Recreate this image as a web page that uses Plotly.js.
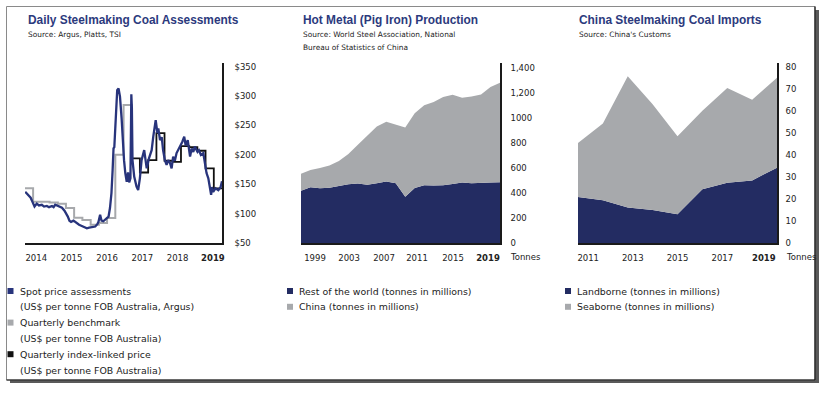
<!DOCTYPE html>
<html><head><meta charset="utf-8">
<script src="https://cdn.plot.ly/plotly-3.0.1.min.js"></script>
<style>html,body{margin:0;padding:0;background:#fff}#c{width:827px;height:398px}</style>
</head><body><div id="c"></div>
<script>
// ---------- DATA ----------
// Chart 1: Daily Steelmaking Coal Assessments (US$/t)
const spotDates = [
'2014-01-03','2014-01-20','2014-02-15','2014-03-05','2014-03-25','2014-04-17','2014-05-12','2014-06-05','2014-07-07','2014-08-01','2014-09-01','2014-09-25','2014-10-28','2014-11-15','2014-12-03',
'2015-01-10','2015-02-16','2015-03-16','2015-04-05','2015-04-22','2015-05-10','2015-05-28','2015-06-24','2015-08-01','2015-08-25','2015-09-25','2015-10-20','2015-11-20','2015-12-15',
'2016-01-15','2016-02-21','2016-03-15','2016-03-28','2016-04-15','2016-05-01','2016-05-20','2016-06-10','2016-07-01','2016-07-18','2016-08-03','2016-08-19','2016-09-01','2016-09-11','2016-09-20','2016-10-05','2016-10-22','2016-11-06','2016-11-22','2016-12-10','2016-12-22',
'2017-01-06','2017-01-20','2017-02-05','2017-02-19','2017-03-04','2017-03-18','2017-03-28','2017-04-03','2017-04-10','2017-04-18','2017-04-29','2017-05-25','2017-06-12','2017-07-01','2017-07-20','2017-08-18','2017-09-03','2017-09-15','2017-10-10','2017-11-09','2017-11-27','2017-12-24',
'2018-01-12','2018-01-22','2018-02-10','2018-03-01','2018-03-16','2018-04-05','2018-04-24','2018-05-12','2018-06-01','2018-06-19','2018-07-06','2018-07-25','2018-08-13','2018-09-01','2018-09-20','2018-10-15','2018-11-06','2018-11-22','2018-12-15',
'2019-01-10','2019-01-28','2019-02-15','2019-03-04','2019-04-03','2019-04-18','2019-05-10','2019-06-06','2019-06-24','2019-07-12','2019-08-01','2019-08-19','2019-09-01','2019-09-10','2019-09-24','2019-10-20','2019-11-20','2019-12-15','2019-12-31'];
const spotValues = [
137,134,131,127,120,112,117,114,115,112,113,111,113,111,115,
112,110,105,100,95,88,86,88,83,81,79,77,75,76,
77,78,82,86,98,88,87,90,92,95,110,135,174,211,213,259,310,313,299,262,220,
191,169,154,170,153,160,303,280,191,175,163,146,140,160,191,208,191,177,194,208,231,259,
237,245,225,230,208,191,183,191,186,177,197,190,203,208,214,222,231,216,225,
197,211,205,214,205,208,200,203,186,169,160,146,132,145,137,143,140,145,155];
const benchDates = ['2014-01-01','2014-04-01','2014-07-01','2014-10-01','2015-01-01','2015-04-01','2015-07-01','2015-10-01','2016-01-01','2016-04-01','2016-07-01','2016-10-01','2017-01-01','2017-04-01'];
const benchValues = [143,120,120,119,117,109.5,93,89,81,84,92.5,200,285,194];
const indexDates = ['2017-04-01','2017-07-01','2017-10-01','2018-01-01','2018-04-01','2018-07-01','2018-10-01','2019-01-01','2019-04-01','2019-07-01','2019-10-01','2019-12-31'];
const indexValues = [194,170,191,237,190,188,215,213,207,177,143,143];
const c1TickLabels = ['2014','2015','2016','2017','2018','<b>2019</b>'];
const c1YTicks = [50,100,150,200,250,300,350];

// Chart 2: Hot Metal (Pig Iron) Production (tonnes in millions)
const pigYears = [1998,1999,2000,2001,2002,2003,2004,2005,2006,2007,2008,2009,2010,2011,2012,2013,2014,2015,2016,2017,2018,2019];
const pigRestOfWorld = [418,445,438,442,455,470,475,465,478,490,478,370,440,462,460,462,472,482,478,478,482,484];
const pigChina = [134,138,160,176,200,240,310,390,452,478,467,552,595,638,665,703,712,678,692,707,763,796];
const c2TickLabels = ['1999','2003','2007','2011','2015','<b>2019</b>'];
const c2YTicks = [0,200,400,600,800,1000,1200,1400];
const c2YTickText = ['0','200','400','600','800','1000','1,200','1,400'];

// Chart 3: China Steelmaking Coal Imports (tonnes in millions)
const impYears = [2011,2012,2013,2014,2015,2016,2017,2018,2019];
const impLandborne = [20.9,19.4,16.1,15.0,13.1,24.4,27.4,28.4,34.2];
const impSeaborne = [24.5,34.8,59.6,48.0,35.4,35.6,43.0,36.6,40.8];
const c3TickLabels = ['2011','2013','2015','2017','<b>2019</b>'];
const c3YTicks = [0,10,20,30,40,50,60,70,80];

const titles = ['Daily Steelmaking Coal Assessments','Hot Metal (Pig Iron) Production','China Steelmaking Coal Imports'];
const sources = [['Source: Argus, Platts, TSI'],['Source: World Steel Association, National','Bureau of Statistics of China'],["Source: China's Customs"]];
const legend1 = ['Spot price assessments','(US$ per tonne FOB Australia, Argus)','Quarterly benchmark','(US$ per tonne FOB Australia)','Quarterly index-linked price','(US$ per tonne FOB Australia)'];
const legend2 = ['Rest of the world (tonnes in millions)','China (tonnes in millions)'];
const legend3 = ['Landborne (tonnes in millions)','Seaborne (tonnes in millions)'];

// ---------- STYLE ----------
const W=827,H=398;
const fx=x=>x/W, fy=y=>1-y/H;
const NAVY='#232c62', LINENAVY='#28347c', GREY='#a7a9ac', BLACK='#111111', TXT='#222222', TITLE='#2c3a7d';
const tickFont={family:'DejaVu Sans',size:8.5,color:TXT};
const yTop=63,yBot=243;

const traces=[
 {x:benchDates,y:benchValues,type:'scatter',mode:'lines',line:{shape:'hv',color:GREY,width:2},xaxis:'x',yaxis:'y',hoverinfo:'skip'},
 {x:indexDates,y:indexValues,type:'scatter',mode:'lines',line:{shape:'hv',color:BLACK,width:1.8},xaxis:'x',yaxis:'y',hoverinfo:'skip'},
 {x:spotDates,y:spotValues,type:'scatter',mode:'lines',line:{color:LINENAVY,width:2.3},xaxis:'x',yaxis:'y'},
 {x:pigYears,y:pigRestOfWorld,type:'scatter',mode:'lines',stackgroup:'a',fillcolor:NAVY,line:{width:0,color:NAVY},xaxis:'x2',yaxis:'y2'},
 {x:pigYears,y:pigChina,type:'scatter',mode:'lines',stackgroup:'a',fillcolor:GREY,line:{width:0,color:GREY},xaxis:'x2',yaxis:'y2'},
 {x:impYears,y:impLandborne,type:'scatter',mode:'lines',stackgroup:'b',fillcolor:NAVY,line:{width:0,color:NAVY},xaxis:'x3',yaxis:'y3'},
 {x:impYears,y:impSeaborne,type:'scatter',mode:'lines',stackgroup:'b',fillcolor:GREY,line:{width:0,color:GREY},xaxis:'x3',yaxis:'y3'}
];

function xax(l,r,anchor,range,tickvals,ticktext,type){
 return {domain:[fx(l),fx(r)],anchor:anchor,range:range,type:type||'linear',tickvals:tickvals,ticktext:ticktext,
  showgrid:false,zeroline:false,showline:true,linecolor:'#1a1a1a',linewidth:1.5,ticks:'',tickfont:tickFont,ticklabelstandoff:6,fixedrange:true};
}
function yax(anchor,range,tickvals,ticktext,standoff){
 return {domain:[fy(yBot),fy(yTop)],anchor:anchor,side:'right',range:range,tickvals:tickvals,ticktext:ticktext,
  showgrid:false,zeroline:false,showline:true,linecolor:'#1a1a1a',linewidth:1.8,ticks:'',tickfont:tickFont,ticklabelstandoff:standoff,fixedrange:true};
}

const c1TickPos=['2014-05-06','2015-06-03','2016-07-01','2017-07-28','2018-08-24','2019-09-21'];
const c2TickPos=[1999.48,2003.07,2006.76,2010.24,2014.04,2017.73];
const c3TickPos=[2011.41,2013.2,2015.0,2016.8,2018.47];

const annotations=[], shapes=[];
function txt(x,y,t,font,xa,ya){annotations.push({xref:'paper',yref:'paper',x:fx(x),y:fy(y),text:t,showarrow:false,xanchor:xa||'left',yanchor:ya||'middle',font:font,borderpad:0});}
const titleFont={family:'Liberation Sans',size:11.9,color:TITLE,weight:'bold'};
const srcFont={family:'DejaVu Sans',size:7.4,color:TXT};
const titleX=[27,302,578];
titles.forEach((t,i)=>{
 txt(titleX[i],20,'<b>'+t+'</b>',titleFont);
 sources[i].forEach((s,j)=>txt(titleX[i],34+j*13,s,srcFont));
});
txt(509,256.5,'Tonnes',tickFont);
txt(785,256.5,'Tonnes',tickFont);

const legFont={family:'DejaVu Sans',size:9.4,color:TXT};
function sq(cx,cy,col){shapes.push({type:'rect',xref:'paper',yref:'paper',x0:fx(cx-3),x1:fx(cx+3),y0:fy(cy+3),y1:fy(cy-3),fillcolor:col,line:{width:0}});}
const rowY=[291,306.8,322.6,338.4,354.2,370];
const leg1Cols=[LINENAVY,null,GREY,null,BLACK,null];
legend1.forEach((t,i)=>{ if(leg1Cols[i]) sq(10.5,rowY[i],leg1Cols[i]); txt(18.5,rowY[i],t,legFont);});
[NAVY,GREY].forEach((c,i)=>{ sq(290,rowY[i],c); txt(298,rowY[i],legend2[i],legFont);});
[NAVY,GREY].forEach((c,i)=>{ sq(568,rowY[i],c); txt(576,rowY[i],legend3[i],legFont);});

// frame with shadow
shapes.push({type:'rect',xref:'paper',yref:'paper',x0:fx(815),x1:fx(819),y0:fy(383),y1:fy(10),fillcolor:'#5a5a5a',line:{width:0}});
shapes.push({type:'rect',xref:'paper',yref:'paper',x0:fx(10),x1:fx(819),y0:fy(383),y1:fy(380),fillcolor:'#5a5a5a',line:{width:0}});
shapes.push({type:'rect',xref:'paper',yref:'paper',x0:fx(6.5),x1:fx(815),y0:fy(380),y1:fy(6.5),fillcolor:'rgba(0,0,0,0)',line:{width:1,color:'#8a8a8a'}});
shapes.push({type:'line',xref:'paper',yref:'paper',x0:fx(815),x1:fx(815),y0:fy(380),y1:fy(6.5),line:{width:1.2,color:'#111'}});
shapes.push({type:'line',xref:'paper',yref:'paper',x0:fx(6.5),x1:fx(815),y0:fy(380),y1:fy(380),line:{width:1.2,color:'#111'}});

const layout={width:W,height:H,margin:{l:0,r:0,t:0,b:0},paper_bgcolor:'#fff',plot_bgcolor:'rgba(0,0,0,0)',showlegend:false,
 xaxis:xax(25,222,'y',['2014-01-01','2019-12-31'],c1TickPos,c1TickLabels,'date'),
 yaxis:yax('x',[50,356.3],c1YTicks,c1YTicks.map(v=>'$'+v),9),
 xaxis2:xax(301,500,'y2',[1998,2019],c2TickPos,c2TickLabels),
 yaxis2:yax('x2',[0,1437],c2YTicks,c2YTickText,7),
 xaxis3:xax(578,777,'y3',[2011,2019],c3TickPos,c3TickLabels),
 yaxis3:yax('x3',[0,81.7],c3YTicks,c3YTicks.map(String),5),
 annotations:annotations,shapes:shapes,hovermode:false};
Plotly.newPlot('c',traces,layout,{staticPlot:true,displayModeBar:false});
</script></body></html>
